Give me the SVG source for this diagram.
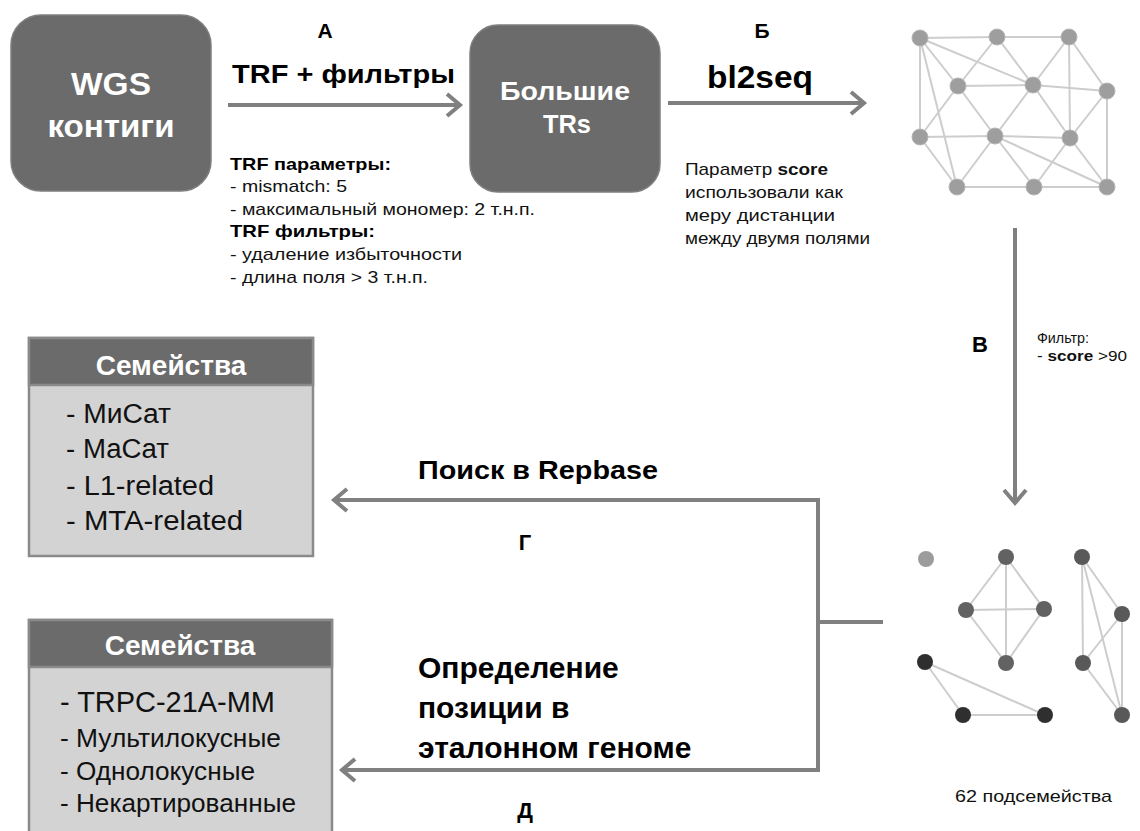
<svg xmlns="http://www.w3.org/2000/svg" width="1140" height="831" viewBox="0 0 1140 831">
<style>
text{font-family:"Liberation Sans",Arial,sans-serif}
.bx{fill:#6b6b6b;stroke:#7f7f7f;stroke-width:1.5}
.wt{font-weight:bold;fill:#ffffff;text-anchor:middle}
.bl{font-weight:bold;fill:#000}
.rg{fill:#111}
.ar{fill:none;stroke:#808080;stroke-width:4;marker-end:url(#chev)}
.e{stroke:#cdcdcd;stroke-width:2}
.n{fill:#9e9e9e;stroke:#b5b5b5;stroke-width:1}
.body{fill:#d3d3d3;stroke:#8a8a8a;stroke-width:2.5}
.head{fill:#6b6b6b;stroke:#8a8a8a;stroke-width:2.5}
</style>
<defs>
<marker id="chev" markerUnits="userSpaceOnUse" markerWidth="20" markerHeight="26" refX="14" refY="12" orient="auto" overflow="visible">
<path d="M1,1 L14,12 L1,23" fill="none" stroke="#808080" stroke-width="4"/>
</marker>
</defs>
<rect width="1140" height="831" fill="#ffffff"/>

<g id="connectors">
<line class="ar" x1="228" y1="105" x2="460" y2="105"/>
<line class="ar" x1="668" y1="103" x2="864" y2="103"/>
<line class="ar" x1="1015" y1="228" x2="1015" y2="503"/>
<polyline class="ar" points="883,622 818,622 818,500 334,500"/>
<polyline class="ar" points="818,622 818,770 342,770"/>
</g>

<g id="wgs">
<rect class="bx" x="11" y="15" width="200" height="176" rx="30"/>
<text class="wt" x="111" y="95" font-size="31" textLength="80" lengthAdjust="spacingAndGlyphs">WGS</text>
<text class="wt" x="111" y="137" font-size="31" textLength="127" lengthAdjust="spacingAndGlyphs">контиги</text>
</g>

<g id="trs">
<rect class="bx" x="470" y="25" width="190" height="167" rx="28"/>
<text class="wt" x="565" y="100" font-size="26" textLength="130" lengthAdjust="spacingAndGlyphs">Большие</text>
<text class="wt" x="567" y="133" font-size="26" textLength="48" lengthAdjust="spacingAndGlyphs">TRs</text>
</g>

<g id="label-a">
<text class="bl" x="325" y="38" font-size="21" text-anchor="middle">А</text>
<text class="bl" x="232" y="83" font-size="25" textLength="223" lengthAdjust="spacingAndGlyphs">TRF + фильтры</text>
<text class="bl" x="230" y="170" font-size="17" textLength="161" lengthAdjust="spacingAndGlyphs">TRF параметры:</text>
<text class="rg" x="230" y="192" font-size="17" textLength="117" lengthAdjust="spacingAndGlyphs">- mismatch: 5</text>
<text class="rg" x="230" y="215" font-size="17" textLength="305" lengthAdjust="spacingAndGlyphs">- максимальный мономер: 2 т.н.п.</text>
<text class="bl" x="230" y="237" font-size="17" textLength="145" lengthAdjust="spacingAndGlyphs">TRF фильтры:</text>
<text class="rg" x="230" y="260" font-size="17" textLength="232" lengthAdjust="spacingAndGlyphs">- удаление избыточности</text>
<text class="rg" x="230" y="283" font-size="17" textLength="198" lengthAdjust="spacingAndGlyphs">- длина поля &gt; 3 т.н.п.</text>
</g>

<g id="label-b">
<text class="bl" x="762" y="38" font-size="21" text-anchor="middle">Б</text>
<text class="bl" x="707" y="88" font-size="31" textLength="106" lengthAdjust="spacingAndGlyphs">bl2seq</text>
<text class="rg" x="685" y="175" font-size="17" textLength="143" lengthAdjust="spacingAndGlyphs">Параметр <tspan font-weight="bold">score</tspan></text>
<text class="rg" x="685" y="198" font-size="17" textLength="158" lengthAdjust="spacingAndGlyphs">использовали как</text>
<text class="rg" x="685" y="221" font-size="17" textLength="150" lengthAdjust="spacingAndGlyphs">меру дистанции</text>
<text class="rg" x="685" y="244" font-size="17" textLength="185" lengthAdjust="spacingAndGlyphs">между двумя полями</text>
</g>

<g id="graph-all">
<line class="e" x1="920" y1="38" x2="997" y2="37"/>
<line class="e" x1="997" y1="37" x2="1069" y2="37"/>
<line class="e" x1="920" y1="38" x2="958" y2="86"/>
<line class="e" x1="920" y1="38" x2="1033" y2="85"/>
<line class="e" x1="920" y1="38" x2="920" y2="137"/>
<line class="e" x1="920" y1="38" x2="957" y2="187"/>
<line class="e" x1="997" y1="37" x2="958" y2="86"/>
<line class="e" x1="997" y1="37" x2="1033" y2="85"/>
<line class="e" x1="1069" y1="37" x2="1033" y2="85"/>
<line class="e" x1="1069" y1="37" x2="1070" y2="138"/>
<line class="e" x1="1069" y1="37" x2="1107" y2="91"/>
<line class="e" x1="958" y1="86" x2="1033" y2="85"/>
<line class="e" x1="958" y1="86" x2="920" y2="137"/>
<line class="e" x1="958" y1="86" x2="995" y2="136"/>
<line class="e" x1="1033" y1="85" x2="1107" y2="91"/>
<line class="e" x1="1033" y1="85" x2="995" y2="136"/>
<line class="e" x1="1033" y1="85" x2="1070" y2="138"/>
<line class="e" x1="1107" y1="91" x2="1070" y2="138"/>
<line class="e" x1="1107" y1="91" x2="1107" y2="187"/>
<line class="e" x1="920" y1="137" x2="995" y2="136"/>
<line class="e" x1="920" y1="137" x2="957" y2="187"/>
<line class="e" x1="995" y1="136" x2="1070" y2="138"/>
<line class="e" x1="995" y1="136" x2="957" y2="187"/>
<line class="e" x1="995" y1="136" x2="1034" y2="187"/>
<line class="e" x1="995" y1="136" x2="1107" y2="187"/>
<line class="e" x1="1070" y1="138" x2="1034" y2="187"/>
<line class="e" x1="1070" y1="138" x2="1107" y2="187"/>
<line class="e" x1="957" y1="187" x2="1034" y2="187"/>
<line class="e" x1="1034" y1="187" x2="1107" y2="187"/>
<circle class="n" cx="920" cy="38" r="8"/>
<circle class="n" cx="997" cy="37" r="8"/>
<circle class="n" cx="1069" cy="37" r="8"/>
<circle class="n" cx="958" cy="86" r="8"/>
<circle class="n" cx="1033" cy="85" r="8"/>
<circle class="n" cx="1107" cy="91" r="8"/>
<circle class="n" cx="920" cy="137" r="8"/>
<circle class="n" cx="995" cy="136" r="8"/>
<circle class="n" cx="1070" cy="138" r="8"/>
<circle class="n" cx="957" cy="187" r="8"/>
<circle class="n" cx="1034" cy="187" r="8"/>
<circle class="n" cx="1107" cy="187" r="8"/>
</g>

<g id="label-v">
<text class="bl" x="980" y="352" font-size="22" text-anchor="middle">В</text>
<text class="rg" x="1037" y="343" font-size="15" textLength="52" lengthAdjust="spacingAndGlyphs">Фильтр:</text>
<text class="rg" x="1037" y="361" font-size="15" textLength="90" lengthAdjust="spacingAndGlyphs">- <tspan font-weight="bold">score</tspan> &gt;90</text>
</g>

<g id="graph-sub">
<line class="e" x1="1006" y1="557" x2="966" y2="610"/>
<line class="e" x1="1006" y1="557" x2="1044" y2="609"/>
<line class="e" x1="1006" y1="557" x2="1006" y2="663"/>
<line class="e" x1="966" y1="610" x2="1044" y2="609"/>
<line class="e" x1="966" y1="610" x2="1006" y2="663"/>
<line class="e" x1="1044" y1="609" x2="1006" y2="663"/>
<line class="e" x1="925" y1="662" x2="963" y2="715"/>
<line class="e" x1="925" y1="662" x2="1045" y2="715"/>
<line class="e" x1="963" y1="715" x2="1045" y2="715"/>
<line class="e" x1="1082" y1="557" x2="1122" y2="614"/>
<line class="e" x1="1082" y1="557" x2="1083" y2="663"/>
<line class="e" x1="1082" y1="557" x2="1122" y2="715"/>
<line class="e" x1="1122" y1="614" x2="1083" y2="663"/>
<line class="e" x1="1122" y1="614" x2="1122" y2="715"/>
<line class="e" x1="1083" y1="663" x2="1122" y2="715"/>
<circle cx="926" cy="559" r="8" fill="#9c9c9c"/>
<g fill="#626262">
<circle cx="1006" cy="557" r="8"/>
<circle cx="966" cy="610" r="8"/>
<circle cx="1044" cy="609" r="8"/>
<circle cx="1006" cy="663" r="8"/>
</g>
<g fill="#595959">
<circle cx="1082" cy="557" r="8"/>
<circle cx="1122" cy="614" r="8"/>
<circle cx="1083" cy="663" r="8"/>
<circle cx="1122" cy="715" r="8"/>
</g>
<g fill="#2f2f2f">
<circle cx="925" cy="662" r="8"/>
<circle cx="963" cy="715" r="8"/>
<circle cx="1045" cy="715" r="8"/>
</g>
<text class="rg" x="955" y="802" font-size="17" fill="#222" textLength="157" lengthAdjust="spacingAndGlyphs">62 подсемейства</text>
</g>

<g id="label-g">
<text class="bl" x="418" y="479" font-size="26" textLength="240" lengthAdjust="spacingAndGlyphs">Поиск в Repbase</text>
<text class="bl" x="525" y="550" font-size="22" text-anchor="middle">Г</text>
</g>

<g id="label-d">
<text class="bl" x="418" y="678" font-size="30">Определение</text>
<text class="bl" x="418" y="718" font-size="30">позиции в</text>
<text class="bl" x="418" y="758" font-size="30">эталонном геноме</text>
<text class="bl" x="525" y="818" font-size="22" text-anchor="middle">Д</text>
</g>

<g id="families-1">
<rect class="body" x="29" y="338" width="284" height="218"/>
<rect class="head" x="29" y="338" width="284" height="47"/>
<text class="wt" x="171" y="375" font-size="28">Семейства</text>
<text class="rg" x="66" y="423" font-size="27" textLength="105" lengthAdjust="spacingAndGlyphs">- МиCат</text>
<text class="rg" x="66" y="458" font-size="27" textLength="103" lengthAdjust="spacingAndGlyphs">- МаCат</text>
<text class="rg" x="66" y="495" font-size="27" textLength="148" lengthAdjust="spacingAndGlyphs">- L1-related</text>
<text class="rg" x="66" y="530" font-size="27" textLength="177" lengthAdjust="spacingAndGlyphs">- MTA-related</text>
</g>

<g id="families-2">
<rect class="body" x="29" y="620" width="303" height="230"/>
<rect class="head" x="29" y="620" width="303" height="47"/>
<text class="wt" x="180" y="655" font-size="28">Семейства</text>
<text class="rg" x="60" y="712" font-size="29" textLength="215" lengthAdjust="spacingAndGlyphs">- TRPC-21A-MM</text>
<text class="rg" x="60" y="747" font-size="25" textLength="221" lengthAdjust="spacingAndGlyphs">- Мультилокусные</text>
<text class="rg" x="60" y="780" font-size="25" textLength="195" lengthAdjust="spacingAndGlyphs">- Однолокусные</text>
<text class="rg" x="60" y="812" font-size="25" textLength="236" lengthAdjust="spacingAndGlyphs">- Некартированные</text>
</g>
</svg>
